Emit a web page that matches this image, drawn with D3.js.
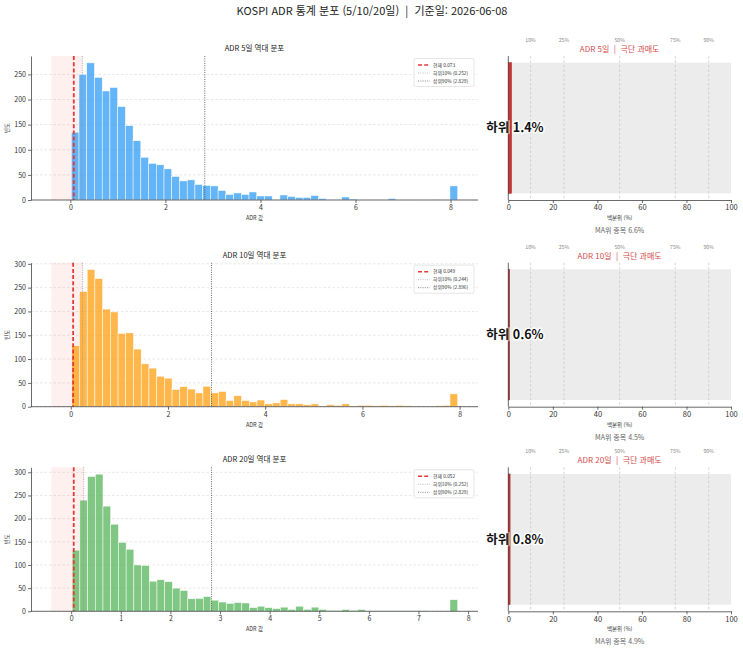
<!DOCTYPE html>
<html lang="ko">
  <head>
    <meta charset="UTF-8">
    <script src="https://cdn.jsdelivr.net/npm/d3@7/dist/d3.min.js"></script>
    <title>KOSPI ADR 통계 분포</title>
    <style>
    body { margin: 0; background: #fff; }
    svg text { font-family: "Noto Sans CJK KR", "Noto Sans", sans-serif; white-space: pre; }
    </style>
  </head>
  <body>
    <div id="chart"></div>
    <script>

// ---- data ----
const periods  = ["5일", "10일", "20일"];
const binStart = [0.02, 0.02, 0.02];
const binEnd   = [8.15, 7.96, 7.79];

const counts5 = [135, 250, 273, 244, 217, 224, 186, 148, 118, 85, 73, 70, 62, 47, 38, 40, 31, 29, 28, 19,
                 11, 14, 11, 16, 8, 8, 1, 10, 7, 5, 5, 9, 3, 1, 1, 6, 2, 0, 0, 1,
                 0, 3, 0, 0, 0, 0, 0, 1, 0, 28];
const counts10 = [128, 242, 288, 269, 205, 199, 154, 155, 121, 90, 81, 64, 60, 36, 42, 37, 29, 43, 29, 32,
                  13, 23, 13, 10, 14, 6, 8, 15, 6, 6, 4, 6, 1, 4, 3, 6, 1, 3, 3, 2,
                  3, 2, 3, 2, 1, 0, 0, 2, 3, 27];
const counts20 = [132, 240, 291, 296, 227, 188, 149, 134, 100, 99, 65, 68, 64, 50, 45, 27, 28, 32, 24, 20,
                  17, 19, 18, 8, 11, 8, 6, 9, 4, 11, 4, 9, 4, 2, 2, 4, 2, 4, 1, 1,
                  1, 1, 1, 1, 1, 1, 0, 0, 0, 25];

const currentVal = [0.073, 0.049, 0.052];
const lower10    = [0.252, 0.244, 0.252];
const upper90    = [2.829, 2.896, 2.829];
const spanStart  = -0.4;
const pctRank    = [1.4, 0.6, 0.8];
const maAbove    = [6.6, 4.5, 4.9];
const xTicks     = [[0, 2, 4, 6, 8], [0, 2, 4, 6, 8], [0, 1, 2, 3, 4, 5, 6, 7, 8]];
const pctMarks   = [10, 25, 50, 75, 90];
const pctTicks   = [0, 20, 40, 60, 80, 100];

const allCounts = [counts5, counts10, counts20];
const barColours = ["#2196F3", "#FF9800", "#4CAF50"];

// ---- layout ----
const width  = 743;
const height = 651;
const rowTop = [56, 262.7, 467.3];
const axH    = 144;
const histX  = [31, 478];
const pctX   = [508.3, 731];

const svg = d3.select("#chart")
  .append("svg")
  .attr("width", width)
  .attr("height", height)
  .attr("viewBox", [0, 0, width, height]);

svg.append("text")
  .attr("x", 372).attr("y", 15)
  .attr("text-anchor", "middle")
  .attr("font-size", 11)
  .attr("fill", "#222")
  .text("KOSPI ADR 통계 분포 (5/10/20일)  |  기준일: 2026-06-08");

periods.forEach((p, r) => {
  const top = rowTop[r];
  const bottom = top + axH;
  const counts = allCounts[r];
  const n = counts.length;
  const bw = (binEnd[r] - binStart[r]) / n;
  const bins = counts.map((c, i) => ({ x0: binStart[r] + i * bw, x1: binStart[r] + (i + 1) * bw, c }));

  // ---------- histogram ----------
  const pad = (binEnd[r] - spanStart) * 0.05;
  const x = d3.scaleLinear().domain([spanStart - pad, binEnd[r] + pad]).range(histX);
  const y = d3.scaleLinear().domain([0, d3.max(counts) * 1.05]).range([bottom, top]);
  const g = svg.append("g");

  // grid
  g.append("g")
    .selectAll("line")
    .data(y.ticks(6))
    .join("line")
      .attr("x1", histX[0]).attr("x2", histX[1])
      .attr("y1", d => y(d)).attr("y2", d => y(d))
      .attr("stroke", "#d9d9d9").attr("stroke-width", 0.6)
      .attr("stroke-dasharray", "2.5,2");

  // shaded low region
  g.append("rect")
    .attr("x", x(spanStart)).attr("y", top)
    .attr("width", x(lower10[r]) - x(spanStart)).attr("height", axH)
    .attr("fill", "#f44336").attr("fill-opacity", 0.08);

  g.append("g")
    .selectAll("rect")
    .data(bins)
    .join("rect")
      .attr("x", d => x(d.x0))
      .attr("y", d => y(d.c))
      .attr("width", d => x(d.x1) - x(d.x0))
      .attr("height", d => y(0) - y(d.c))
      .attr("fill", barColours[r]).attr("fill-opacity", 0.7)
      .attr("stroke", "#fff").attr("stroke-width", 0.5);

  // reference lines
  const refs = [
    { v: lower10[r], stroke: "#999", w: 0.8, dash: "1,1.3", label: `하위10% (${lower10[r].toFixed(3)})` },
    { v: upper90[r], stroke: "#444", w: 0.8, dash: "1,1.3", label: `상위90% (${upper90[r].toFixed(3)})` },
    { v: currentVal[r], stroke: "#e53935", w: 1.8, dash: "4,2.2", label: `현재 ${currentVal[r].toFixed(3)}` }
  ];
  g.append("g")
    .selectAll("line")
    .data(refs)
    .join("line")
      .attr("x1", d => x(d.v)).attr("x2", d => x(d.v))
      .attr("y1", top).attr("y2", bottom)
      .attr("stroke", d => d.stroke).attr("stroke-width", d => d.w)
      .attr("stroke-dasharray", d => d.dash);

  // axes
  g.append("g")
    .attr("transform", `translate(0,${bottom})`)
    .call(d3.axisBottom(x).tickValues(xTicks[r]).tickSize(3).tickPadding(2).tickSizeOuter(0))
    .call(a => a.select(".domain").attr("d", `M${histX[0]},0H${histX[1]}`));
  g.append("g")
    .attr("transform", `translate(${histX[0]},0)`)
    .call(d3.axisLeft(y).ticks(6).tickSize(3).tickPadding(2).tickSizeOuter(0));
  g.selectAll(".tick text").attr("font-size", 7).attr("fill", "#333");
  g.selectAll(".domain, .tick line").attr("stroke", "#444").attr("stroke-width", 0.8);

  g.append("text")
    .attr("x", (histX[0] + histX[1]) / 2).attr("y", top - 5)
    .attr("text-anchor", "middle").attr("font-size", 7.5).attr("fill", "#222")
    .text(`ADR ${p} 역대 분포`);
  g.append("text")
    .attr("x", (histX[0] + histX[1]) / 2).attr("y", bottom + 20)
    .attr("text-anchor", "middle").attr("font-size", 5.5).attr("fill", "#333")
    .text("ADR 값");
  g.append("text")
    .attr("transform", `translate(9,${top + axH / 2}) rotate(-90)`)
    .attr("text-anchor", "middle").attr("font-size", 5.5).attr("fill", "#333")
    .text("빈도");

  // legend
  const lg = g.append("g").attr("transform", `translate(414,${top + 2.5})`);
  lg.append("rect")
    .attr("width", 60).attr("height", 28).attr("rx", 1.5)
    .attr("fill", "#fff").attr("fill-opacity", 0.85)
    .attr("stroke", "#ccc").attr("stroke-width", 0.5);
  const legendItems = [refs[2], refs[0], refs[1]];
  legendItems.forEach((d, i) => {
    const ly = 6.5 + i * 8;
    lg.append("line")
      .attr("x1", 4).attr("x2", 16).attr("y1", ly).attr("y2", ly)
      .attr("stroke", d.stroke).attr("stroke-width", d.w * 0.8)
      .attr("stroke-dasharray", d.dash);
    lg.append("text")
      .attr("x", 19).attr("y", ly).attr("dy", "0.35em")
      .attr("font-size", 4.8).attr("fill", "#333")
      .text(d.label);
  });

  // ---------- percentile panel ----------
  const px = d3.scaleLinear().domain([0, 100]).range(pctX);
  const barH = axH * 0.907;
  const barY = top + (axH - barH) / 2;
  const h = svg.append("g");

  h.append("rect")
    .attr("x", px(0)).attr("y", barY)
    .attr("width", px(100) - px(0)).attr("height", barH)
    .attr("fill", "#ececec");

  h.append("g")
    .selectAll("line")
    .data(pctMarks)
    .join("line")
      .attr("x1", d => px(d)).attr("x2", d => px(d))
      .attr("y1", top).attr("y2", bottom)
      .attr("stroke", "#c4c4c4").attr("stroke-width", 0.7)
      .attr("stroke-dasharray", "2.5,2");

  h.append("g")
    .selectAll("text")
    .data(pctMarks)
    .join("text")
      .attr("x", d => px(d)).attr("y", top - 14)
      .attr("text-anchor", "middle").attr("font-size", 5.2).attr("fill", "#888")
      .text(d => d + "%");

  h.append("rect")
    .attr("x", px(0)).attr("y", barY)
    .attr("width", px(pctRank[r]) - px(0)).attr("height", barH)
    .attr("fill", "#d32f2f").attr("stroke", "#8e1b1b").attr("stroke-width", 0.5);

  h.append("text")
    .attr("x", px(3)).attr("y", top + axH / 2).attr("dy", "0.35em")
    .attr("text-anchor", "middle").attr("font-size", 12.5).attr("font-weight", "bold")
    .attr("fill", "#111").attr("stroke", "#fff").attr("stroke-width", 3)
    .attr("paint-order", "stroke").attr("stroke-linejoin", "round")
    .text(`하위 ${pctRank[r]}%`);

  h.append("text")
    .attr("x", px(50)).attr("y", top - 4)
    .attr("text-anchor", "middle").attr("font-size", 8).attr("fill", "#d24a4a")
    .text(`ADR ${p}  |  극단 과매도`);

  h.append("g")
    .attr("transform", `translate(0,${bottom})`)
    .call(d3.axisBottom(px).tickValues(pctTicks).tickSize(3).tickPadding(2).tickSizeOuter(0));
  h.append("line")
    .attr("x1", pctX[0]).attr("x2", pctX[0]).attr("y1", top).attr("y2", bottom)
    .attr("stroke", "#444").attr("stroke-width", 0.8);
  h.selectAll(".tick text").attr("font-size", 7.5).attr("fill", "#333");
  h.selectAll(".domain, .tick line").attr("stroke", "#444").attr("stroke-width", 0.8);

  h.append("text")
    .attr("x", px(50)).attr("y", bottom + 20)
    .attr("text-anchor", "middle").attr("font-size", 5.5).attr("fill", "#333")
    .text("백분위 (%)");
  h.append("text")
    .attr("x", px(50)).attr("y", bottom + 33)
    .attr("text-anchor", "middle").attr("font-size", 7).attr("fill", "#666")
    .text(`MA위 종목 ${maAbove[r]}%`);
});
    </script>
  </body>
</html>
